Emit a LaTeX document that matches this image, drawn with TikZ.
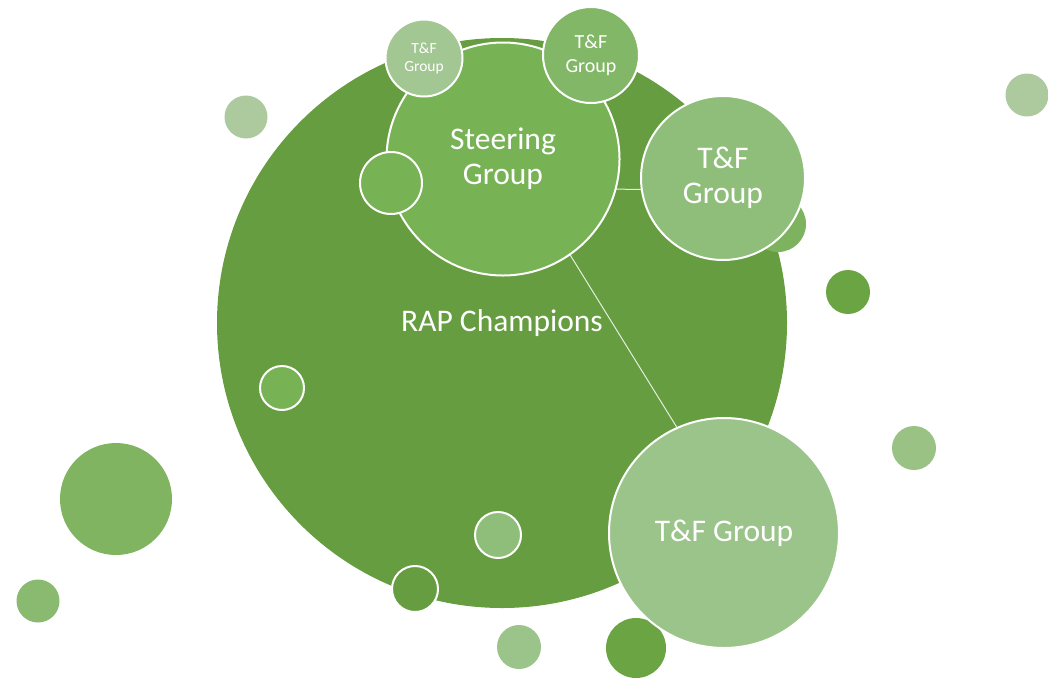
\documentclass[tikz,border=0pt]{standalone}
\usepackage{fontspec}
\setmainfont{Carlito}

\pgfdeclarelayer{base}
\pgfdeclarelayer{links}
\pgfsetlayers{base,links,main}

\definecolor{gDark}{HTML}{669D40}
\definecolor{gSteer}{HTML}{77B255}
\definecolor{gPaleA}{HTML}{A3C793}
\definecolor{gMidB}{HTML}{82B767}
\definecolor{gMidC}{HTML}{8FBE7A}
\definecolor{gPaleD}{HTML}{9BC48A}
\definecolor{gSmallR}{HTML}{7DB35F}
\definecolor{gDotDark}{HTML}{6AA443}
\definecolor{gDotPale}{HTML}{ACCA9E}
\definecolor{gDotMid}{HTML}{8ABA6F}
\definecolor{gDotBig}{HTML}{80B460}
\definecolor{gDotLight}{HTML}{9AC285}
\definecolor{linkCol}{HTML}{E4EEDC}

\begin{document}
\begin{tikzpicture}[x=1pt,y=-1pt,
  bubble/.style={circle, inner sep=0pt, outer sep=0pt, minimum size=#1pt,
                 text=white, align=center},
  ring/.style={draw=white, line width=2pt},
  bigfont/.style={font=\fontsize{31.5}{35}\selectfont},
  midfont/.style={font=\fontsize{20}{24}\selectfont},
  smallfont/.style={font=\fontsize{15.5}{18}\selectfont},
  link/.style={draw=linkCol, line width=1pt}]
\useasboundingbox (0,0) rectangle (1048,678);

% outer circle
\begin{pgfonlayer}{base}
  \node[bubble=570, fill=gDark, bigfont] (rap) at (502,323) {RAP Champions};
\end{pgfonlayer}

% loose dots around the picture
\node[bubble=43, fill=gDotPale] (d1) at (246,117) {};
\node[bubble=43, fill=gDotPale] (d2) at (1027,95) {};
\node[bubble=44, fill=gDotDark] (d3) at (848,292) {};
\node[bubble=44, fill=gDotLight] (d4) at (914,448) {};
\node[bubble=112, fill=gDotBig] (d5) at (116,499) {};
\node[bubble=43, fill=gDotMid] (d6) at (38,601) {};
\node[bubble=44, fill=gPaleD] (d7) at (519,647) {};
\node[bubble=60, fill=gDotDark] (d8) at (636,648) {};

% ringed dots on the outer circle
\node[bubble=44, fill=gSteer, ring] (r1) at (282,388) {};
\node[bubble=46, fill=gMidC, ring] (r2) at (498,535) {};
\node[bubble=46, fill=gDark, ring] (r3) at (415,589) {};

% steering group and its satellites
\node[bubble=233, fill=gSteer, ring, bigfont] (steer) at (503,159) {Steering\\Group};
\node[bubble=77, fill=gPaleA, ring, smallfont] (tfA) at (424,58) {T\&F\\Group};
\node[bubble=96, fill=gMidB, ring, midfont] (tfB) at (591,55) {T\&F\\Group};
\node[bubble=62, fill=gSteer, ring] (side) at (391,183) {};
\node[bubble=56, fill=gSmallR] (dR) at (778,224) {};
\node[bubble=164, fill=gMidC, ring, bigfont] (tfC) at (723,178) {T\&F\\Group};
\node[bubble=230, fill=gPaleD, ring, bigfont] (tfD) at (724,533) {T\&F Group};

% connectors
\begin{pgfonlayer}{links}
  \draw[link] (steer.-15.5) -- (tfC.188.2);
  \draw[link] (steer.-55.6) -- (tfD.114.6);
\end{pgfonlayer}
\end{tikzpicture}
\end{document}
